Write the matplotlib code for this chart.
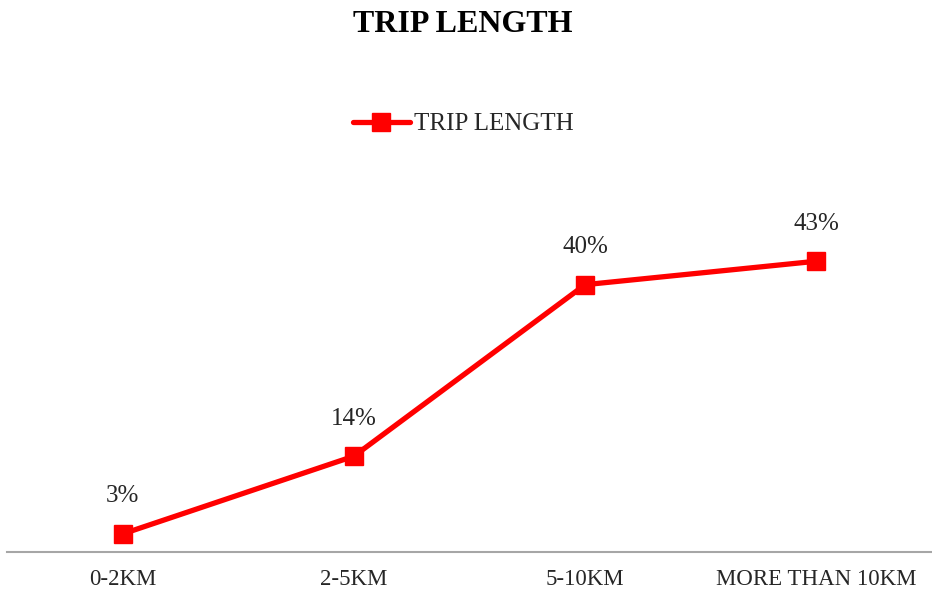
import matplotlib.pyplot as plt

categories = ['0-2KM', '2-5KM', '5-10KM', 'MORE THAN 10KM']
share = [2.7, 14.3, 39.9, 43.4]
series_name = 'TRIP LENGTH'

plt.rcParams['font.family'] = ['Liberation Serif', 'DejaVu Serif']

fig = plt.figure(figsize=(9.32, 5.93), dpi=100)
ax = fig.add_axes([7 / 932, 41 / 593, 1 - 7 / 932, (552 - 217) / 593])

x = range(len(categories))
ax.plot(x, share, color='#ff0000', lw=3.8, marker='s', ms=13,
        solid_capstyle='round', label=series_name)

for xi, v in zip(x, share):
    ax.annotate(f'{v:.0f}%', (xi, v), xytext=(0, 27), textcoords='offset points',
                ha='center', va='center', fontsize=18, color='#262626')

ax.set_xlim(-0.5, 3.5)
ax.set_ylim(0, 50)
ax.set_xticks(list(x))
ax.set_xticklabels(categories, fontsize=16.5, color='#262626')
ax.tick_params(axis='x', length=0, pad=12)
ax.set_yticks([])
for side in ['top', 'left', 'right']:
    ax.spines[side].set_visible(False)
ax.spines['bottom'].set_color('#a6a6a6')
ax.spines['bottom'].set_linewidth(1.5)

fig.text(0.497, 1 - 25 / 593, 'TRIP LENGTH', ha='center', va='center',
         fontsize=23, fontweight='bold', color='black')
fig.legend(loc='center', bbox_to_anchor=(0.497, 1 - 124 / 593), frameon=False,
           fontsize=18, handlelength=2.3, handletextpad=0.15, labelcolor='#262626')

fig.savefig('out.png', dpi=100)
